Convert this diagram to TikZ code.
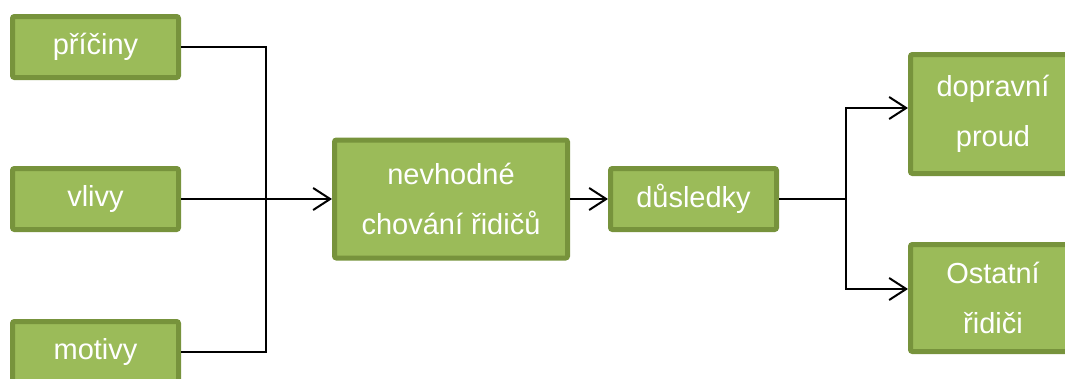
\documentclass[tikz,border=0pt]{standalone}
\usepackage{fontspec}
\setmainfont{Liberation Sans}
\usetikzlibrary{arrows.meta}
\definecolor{boxfill}{HTML}{9BBB59}
\definecolor{boxline}{HTML}{77933C}
\tikzset{
  gbox/.style={draw=boxline, fill=boxfill, line width=5pt, rounded corners=2pt,
    inner sep=0pt, text=white, align=center,
    font=\fontsize{29}{50}\selectfont},
  conn/.style={line width=2pt, black},
  arr/.style={conn, -{Straight Barb[length=17pt,width=22pt,line width=2pt]}}
}
\begin{document}
\begin{tikzpicture}[x=1pt,y=-1pt]
\useasboundingbox (0,0) rectangle (1065,378);
\clip (0,0) rectangle (1065,378);
\node[gbox, minimum width=166pt, minimum height=61pt] (a) at (95.5,47) {příčiny};
\node[gbox, minimum width=166pt, minimum height=61pt] (b) at (95.5,199) {vlivy};
\node[gbox, minimum width=166pt, minimum height=61pt] (c) at (95.5,352) {motivy};
\node[gbox, minimum width=233pt, minimum height=118pt] (n) at (451,199) {nevhodné\\chování řidičů};
\node[gbox, minimum width=166pt, minimum height=61pt] (d) at (693.5,199) {důsledky};
\node[gbox, minimum width=165pt, minimum height=119pt] (p) at (993,114) {dopravní\\proud};
\node[gbox, minimum width=165pt, minimum height=107pt] (o) at (993,298) {Ostatní\\řidiči};
\coordinate (j) at (266,199);
\coordinate (k) at (846,199);
\draw[conn] (a.east) -| (j);
\draw[conn] (c.east) -| (j);
\draw[arr] (b.east) -- (n.west);
\draw[arr] (n.east) -- (d.west);
\draw[conn] (d.east) -- (k);
\draw[arr] (k) |- ([yshift=6pt]p.west);
\draw[arr] (k) |- ([yshift=9pt]o.west);
\end{tikzpicture}
\end{document}
